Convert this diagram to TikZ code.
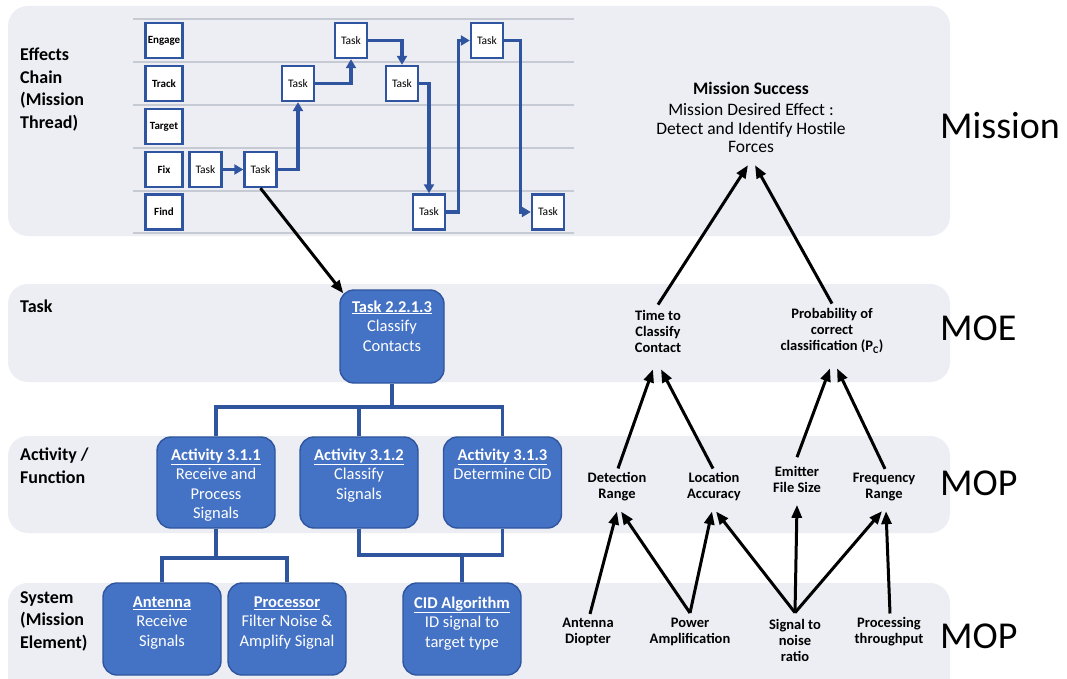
\documentclass[tikz,border=0pt]{standalone}
\usepackage{fontspec}
\setmainfont{Carlito}
\usetikzlibrary{arrows.meta,calc}
\definecolor{bandgray}{RGB}{236,238,243}
\definecolor{boxblue}{RGB}{68,114,196}
\definecolor{boxedge}{RGB}{47,85,158}
\definecolor{chainblue}{RGB}{47,85,160}
\definecolor{gridgray}{RGB}{198,202,210}
\newcommand{\hd}[1]{\textbf{\underline{#1}}}
\begin{document}
\begin{tikzpicture}[x=1pt,y=-1pt,
  band/.style={fill=bandgray, draw=none, rounded corners=20pt},
  grid/.style={draw=gridgray, line width=1.2pt},
  rowlab/.style={draw=chainblue, line width=2.4pt, fill=white, minimum width=37pt, minimum height=35pt, inner sep=0pt, font=\fontsize{11}{12}\selectfont\bfseries},
  chaintask/.style={draw=chainblue, line width=2.4pt, fill=white, minimum width=32pt, minimum height=35pt, inner sep=0pt, font=\fontsize{11.5}{12}\selectfont},
  flow/.style={draw=chainblue, line width=3.2pt, -{Triangle[length=9pt,width=10pt]}},
  bluebox/.style={fill=boxblue, draw=boxedge, line width=1.4pt, rounded corners=14pt, minimum width=118pt, inner sep=0pt},
  boxtext/.style={text=white, font=\fontsize{16.5}{19.5}\selectfont, align=center, inner sep=0pt, anchor=north},
  tree/.style={draw=boxedge, line width=3.6pt},
  sidelab/.style={font=\fontsize{18}{22.5}\selectfont\bfseries, align=left, anchor=north west, inner sep=0pt},
  biglab/.style={font=\fontsize{38}{40}\selectfont, anchor=west, inner sep=0pt},
  meas/.style={font=\fontsize{14.5}{16}\selectfont\bfseries, align=center, inner sep=0pt},
  blackarr/.style={draw=black, line width=3pt, -{Triangle[length=13pt,width=10pt]}}
]
\useasboundingbox (0,0) rectangle (1067,679);
\fill[white] (0,0) rectangle (1067,679);
\begin{scope}
  \clip (0,0) rectangle (1067,679);
  \fill[band] (8,6) rectangle (950,236);
  \fill[band] (8,284) rectangle (950,382);
  \fill[band] (8,436) rectangle (950,533);
  \fill[band] (8,583) rectangle (950,705);
\end{scope}

% left labels
\node[sidelab] (lblchain) at (20,48) {Effects\\Chain\\(Mission\\Thread)};
\node[sidelab] (lbltask) at (20,300) {Task};
\node[sidelab] (lblact) at (20,448) {Activity /\\Function};
\node[sidelab] (lblsys) at (20,591) {System\\(Mission\\Element)};

% right labels
\node[biglab] (bmission) at (940,126) {Mission};
\node[biglab] (bmoe) at (940,328) {MOE};
\node[biglab] (bmop1) at (940,483) {MOP};
\node[biglab] (bmop2) at (940,636) {MOP};

% effects chain grid
\foreach \yy in {19,62,105,148,191,233} \draw[grid] (133,\yy) -- (574,\yy);

\node[rowlab] (rengage) at (164,40.5) {Engage};
\node[rowlab] (rtrack) at (164,83.5) {Track};
\node[rowlab] (rtarget) at (164,126.5) {Target};
\node[rowlab] (rfix) at (164,169.5) {Fix};
\node[rowlab] (rfind) at (164,212) {Find};

\node[chaintask] (ft1) at (205.5,169.5) {Task};
\node[chaintask] (ft2) at (260.5,169.5) {Task};
\node[chaintask] (tt1) at (298,83.5) {Task};
\node[chaintask] (et1) at (351,40.5) {Task};
\node[chaintask] (tt2) at (402,83.5) {Task};
\node[chaintask] (fd1) at (429,212) {Task};
\node[chaintask] (et2) at (487,40.5) {Task};
\node[chaintask] (fd2) at (548,212) {Task};

\draw[flow] (ft1.east) -- (ft2.west);
\draw[flow] (ft2.east) -| (tt1.south);
\draw[flow] (tt1.east) -| (et1.south);
\draw[flow] (et1.east) -| (tt2.north);
\draw[flow] (tt2.east) -| (fd1.north);
\draw[flow] (fd1.east) -- ++(12,0) |- (et2.west);
\draw[flow] (et2.east) -- ++(16,0) |- (fd2.west);

% task hierarchy
\node[bluebox, minimum width=104pt, minimum height=93pt] (task) at (392,336.5) {};
\node[boxtext] (taskt) at ([yshift=-11pt]task.north) {\hd{Task 2.2.1.3}\\Classify\\Contacts};

\node[bluebox, minimum height=91pt] (a1) at (216,482.5) {};
\node[bluebox, minimum height=91pt] (a2) at (359,482.5) {};
\node[bluebox, minimum height=91pt] (a3) at (502.5,482.5) {};
\node[boxtext] (a1t) at ([yshift=-12pt]a1.north) {\hd{Activity 3.1.1}\\Receive and\\Process\\Signals};
\node[boxtext] (a2t) at ([yshift=-12pt]a2.north) {\hd{Activity 3.1.2}\\Classify\\Signals};
\node[boxtext] (a3t) at ([yshift=-12pt]a3.north) {\hd{Activity 3.1.3}\\Determine CID};

\node[bluebox, minimum height=92pt] (s1) at (162,629) {};
\node[bluebox, minimum height=92pt] (s2) at (287,629) {};
\node[bluebox, minimum height=92pt] (s3) at (462,629) {};
\node[boxtext] (s1t) at ([yshift=-14pt]s1.north) {\hd{Antenna}\\Receive\\Signals};
\node[boxtext] (s2t) at ([yshift=-14pt]s2.north) {\hd{Processor}\\Filter Noise \&\\Amplify Signal};
\node[boxtext] (s3t) at ([yshift=-14pt]s3.north) {\hd{CID Algorithm}\\ID signal to\\target type};

\coordinate (tj) at (392,407);
\coordinate (aj1) at (216,558);
\coordinate (aj2) at (462,555);
\draw[tree] (task.south) -- (tj);
\draw[tree] (a1.north) |- (tj) -| (a3.north);
\draw[tree] (a2.north) -- (a2.north |- tj);
\draw[tree] (a1.south) -- (aj1);
\draw[tree] (s1.north) |- (aj1) -| (s2.north);
\draw[tree] (a2.south) |- (aj2) -| (a3.south);
\draw[tree] (aj2) -- (s3.north);

\draw[blackarr] (ft2.south) -- ([xshift=4pt,yshift=-4pt]task.north west);

% measures
\node[align=center, inner sep=0pt, font=\fontsize{17.5}{18.5}\selectfont] (ms) at (751,117.5)
  {{\bfseries Mission Success}\\[3pt]Mission Desired Effect :\\Detect and Identify Hostile\\Forces};
\node[meas] (tc) at (658,331) {Time to\\Classify\\Contact};
\node[meas] (pc) at (832,331) {Probability of\\correct\\classification (P\textsubscript{C})};

\node[meas] (dr) at (617,487) {Detection\\Range};
\node[meas] (la) at (714,487) {Location\\Accuracy};
\node[meas] (ef) at (797,479.5) {Emitter\\File Size};
\node[meas] (fr) at (884,487) {Frequency\\Range};

\node[meas] (ad) at (588,632) {Antenna\\Diopter};
\node[meas] (pa) at (690,632) {Power\\Amplification};
\node[meas] (snr) at (795,640) {Signal to\\noise\\ratio};
\node[meas] (pt) at (889,632) {Processing\\throughput};

\draw[blackarr] ([yshift=5pt]tc.north) -- ([xshift=-3pt,yshift=-12pt]ms.south);
\draw[blackarr] ([yshift=5pt]pc.north) -- ([xshift=4pt,yshift=-12pt]ms.south);

\draw[blackarr] ([xshift=1pt,yshift=4pt]dr.north) -- ([xshift=-5pt,yshift=-17pt]tc.south);
\draw[blackarr] ([xshift=-1pt,yshift=4pt]la.north) -- ([xshift=3pt,yshift=-17pt]tc.south);
\draw[blackarr] ([yshift=9pt]ef.north) -- ([xshift=-2pt,yshift=-15pt]pc.south);
\draw[blackarr] ([xshift=1pt,yshift=4pt]fr.north) -- ([xshift=5pt,yshift=-15pt]pc.south);

\draw[blackarr] ([xshift=2pt,yshift=4pt]ad.north) -- ([yshift=-10pt]dr.south);
\draw[blackarr] ([yshift=5pt]pa.north) -- ([xshift=4pt,yshift=-10pt]dr.south);
\draw[blackarr] ([yshift=5pt]pa.north) -- ([xshift=-2pt,yshift=-10pt]la.south);
\draw[blackarr] ([yshift=6pt]snr.north) -- ([xshift=2pt,yshift=-10pt]la.south);
\draw[blackarr] ([yshift=6pt]snr.north) -- ([yshift=-12pt]ef.south);
\draw[blackarr] ([yshift=6pt]snr.north) -- ([xshift=-2pt,yshift=-10pt]fr.south);
\draw[blackarr] ([xshift=1pt,yshift=4pt]pt.north) -- ([xshift=2pt,yshift=-10pt]fr.south);
\end{tikzpicture}
\end{document}
